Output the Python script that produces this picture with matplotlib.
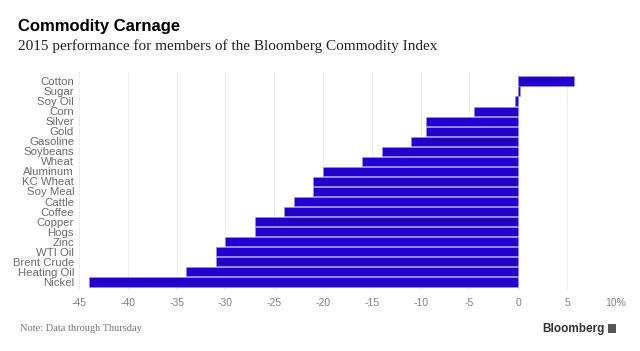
import matplotlib.pyplot as plt
from matplotlib.patches import Rectangle

commodities = ["Cotton", "Sugar", "Soy Oil", "Corn", "Silver", "Gold", "Gasoline",
               "Soybeans", "Wheat", "Aluminum", "KC Wheat", "Soy Meal", "Cattle",
               "Coffee", "Copper", "Hogs", "Zinc", "WTI Oil", "Brent Crude",
               "Heating Oil", "Nickel"]
perf_2015 = [5.7, 0.2, -0.3, -4.5, -9.5, -9.5, -11, -14, -16, -20, -21, -21, -23,
             -24, -27, -27, -30, -31, -31, -34, -44]
ticks = [-45, -40, -35, -30, -25, -20, -15, -10, -5, 0, 5, 10]
tick_labels = ["-45", "-40", "-35", "-30", "-25", "-20", "-15", "-10", "-5", "0", "5", "10%"]

bar_color = "#2200cc"
gray = "#6b6b6b"

fig = plt.figure(figsize=(6.4, 3.51), dpi=100)
ax = fig.add_axes([0.1234, 0.174, 0.839, 0.621])

pos = list(range(len(commodities)))
ax.barh(pos, perf_2015, height=0.92, color=bar_color, edgecolor="#9a8cf0", linewidth=0.4, zorder=3)
ax.set_ylim(len(commodities) - 0.5 + 0.3, -0.5 - 0.4)
ax.set_xlim(-45, 10)

ax.set_yticks(pos)
ax.set_yticklabels(commodities, family="Liberation Sans", fontsize=8.2, color=gray)
ax.set_xticks(ticks)
ax.set_xticklabels(tick_labels, family="Liberation Sans", fontsize=7.5, color="#808080")
ax.tick_params(axis="both", length=0)
ax.tick_params(axis="y", pad=3.5)
ax.tick_params(axis="x", pad=6)
ax.grid(axis="x", color="#ececf2", linewidth=0.8, zorder=0)
for s in ax.spines.values():
    s.set_visible(False)

fig.text(0.028, 0.925, "Commodity Carnage", family="Liberation Sans", fontweight="bold",
         fontsize=12, color="black", va="center")
fig.text(0.028, 0.868, "2015 performance for members of the Bloomberg Commodity Index",
         family="Liberation Serif", fontsize=11, color="#222222", va="center")
fig.text(0.031, 0.063, "Note: Data through Thursday", family="Liberation Serif",
         fontsize=7.5, color="#777777", va="center")
fig.text(0.945, 0.063, "Bloomberg", family="Liberation Sans", fontweight="bold",
         fontsize=8.5, color="#333333", va="center", ha="right")
fig.patches.append(Rectangle((0.95, 0.05), 0.012, 0.026, transform=fig.transFigure,
                             facecolor="#555555", edgecolor="none"))

fig.savefig("out.png", dpi=100)
